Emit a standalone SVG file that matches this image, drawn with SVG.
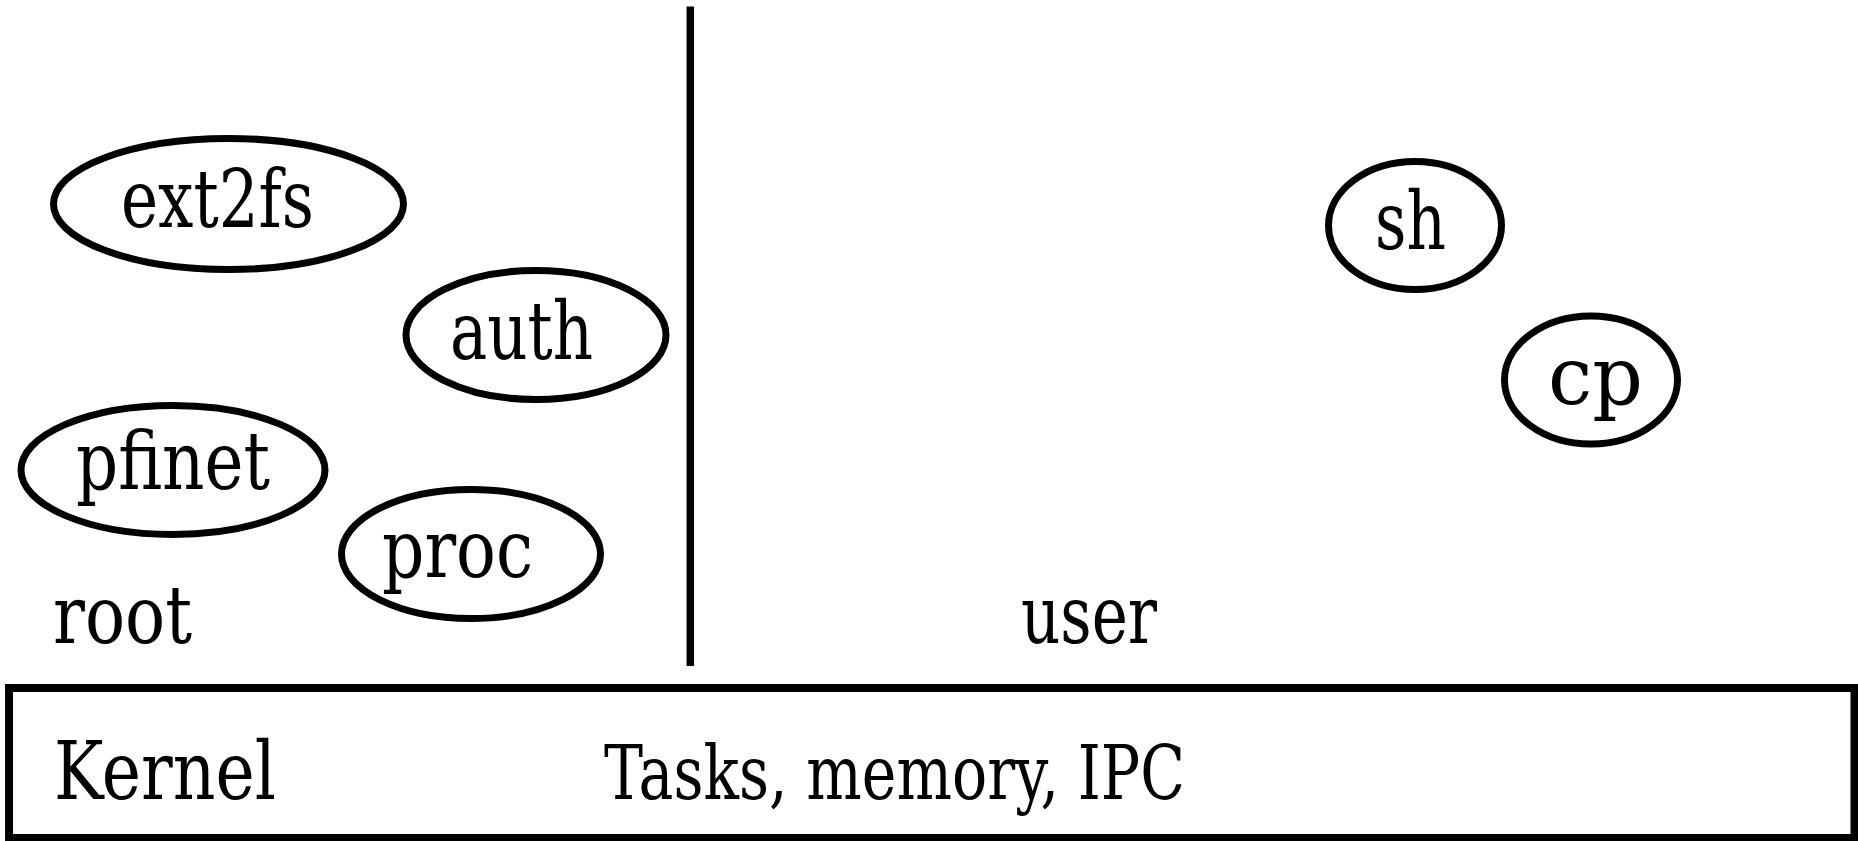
<svg xmlns="http://www.w3.org/2000/svg" width="1858" height="841" viewBox="0 0 1858 841">
<style>
.n{fill:none;stroke:#000;stroke-width:7}
text{font-family:'DejaVu Serif','Liberation Serif',serif;font-size:80px;fill:#000}
</style>
<rect width="1858" height="841" fill="#fff"/>
<g id="connectors">
<line x1="690.3" y1="6.5" x2="690.3" y2="666" stroke="#000" stroke-width="7.5"/>
</g>
<g id="ext2fs"><ellipse class="n" cx="228.5" cy="204" rx="175" ry="65.5"/><text x="121" y="227" textLength="193" lengthAdjust="spacingAndGlyphs">ext2fs</text></g>
<g id="auth"><ellipse class="n" cx="536" cy="335" rx="130" ry="64.5"/><text x="450" y="359" textLength="143" lengthAdjust="spacingAndGlyphs">auth</text></g>
<g id="pfinet"><ellipse class="n" cx="173" cy="470" rx="152" ry="64.5"/><text x="76" y="489" textLength="194" lengthAdjust="spacingAndGlyphs">pfinet</text></g>
<g id="proc"><ellipse class="n" cx="471" cy="554" rx="129.5" ry="64.5"/><text x="382" y="577" textLength="151" lengthAdjust="spacingAndGlyphs">proc</text></g>
<g id="sh"><ellipse class="n" cx="1415" cy="225.5" rx="86.5" ry="64"/><text x="1375" y="249" textLength="71" lengthAdjust="spacingAndGlyphs">sh</text></g>
<g id="cp"><ellipse class="n" cx="1591" cy="380" rx="86.5" ry="64"/><text x="1548" y="404" textLength="95" lengthAdjust="spacingAndGlyphs">cp</text></g>
<g id="root"><text x="53" y="643" textLength="139" lengthAdjust="spacingAndGlyphs">root</text></g>
<g id="user"><text x="1021" y="643" textLength="136" lengthAdjust="spacingAndGlyphs">user</text></g>
<g id="kernel">
<rect class="n" x="9" y="688" width="1845.5" height="150" style="stroke-width:8"/>
<text x="54" y="799" font-size="84" textLength="222" lengthAdjust="spacingAndGlyphs">Kernel</text>
<text x="604" y="799" style="font-size:74px" textLength="581" lengthAdjust="spacingAndGlyphs">Tasks, memory, IPC</text>
</g>
</svg>
